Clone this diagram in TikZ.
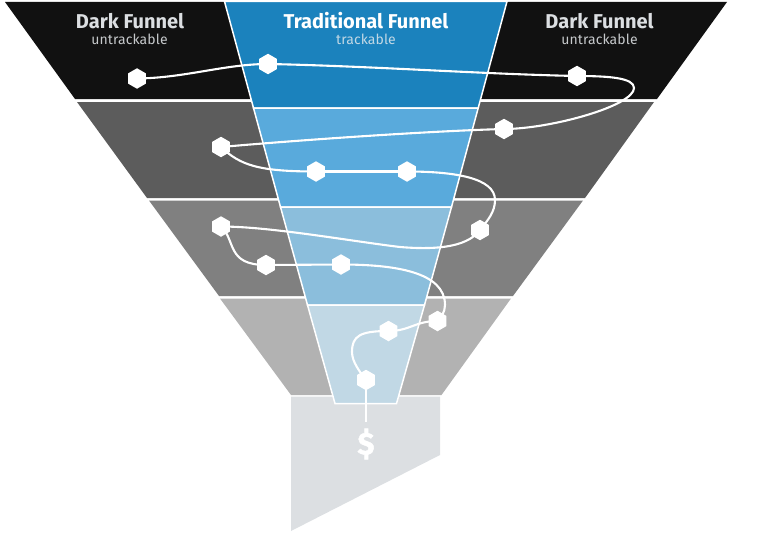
\documentclass[tikz,border=0pt]{standalone}
\usepackage{fontspec}
\setmainfont{Fira Sans}
\usetikzlibrary{shapes.geometric}
\definecolor{dkA}{HTML}{111111}
\definecolor{dkB}{HTML}{5C5C5C}
\definecolor{dkC}{HTML}{808080}
\definecolor{dkD}{HTML}{B2B2B2}
\definecolor{dkE}{HTML}{DCDFE2}
\definecolor{blA}{HTML}{1B82BD}
\definecolor{blB}{HTML}{59AADC}
\definecolor{blC}{HTML}{8BBEDC}
\definecolor{blD}{HTML}{C1D8E5}
\tikzset{
  hexnode/.style={regular polygon,regular polygon sides=6,shape border rotate=90,fill=white,inner sep=0pt,minimum size=20.5pt},
  route/.style={draw=white,line width=2.1pt},
  blueband/.style={draw=white,line width=1.5pt,line join=miter},
  titletext/.style={font=\fontsize{20}{22}\selectfont\bfseries,inner sep=0pt},
  subtext/.style={font=\fontsize{14}{16}\selectfont\addfontfeatures{LetterSpace=0.8},inner sep=0pt}
}
\begin{document}
\begin{tikzpicture}[x=1pt,y=-1pt]
\useasboundingbox (0,0) rectangle (768,535);
% dark bands
\fill[dkA] (5,2) -- (727,2) -- (657,99) -- (75,99) -- cycle;
\fill[dkB] (77,102) -- (654,102) -- (585,198) -- (147,198) -- cycle;
\fill[dkC] (149,200.5) -- (583,200.5) -- (513,296) -- (219,296) -- cycle;
\fill[dkD] (220,298.5) -- (511,298.5) -- (441.5,395) -- (291,395) -- cycle;
\fill[dkE] (291,396.5) -- (440,396.5) -- (440,455) -- (291,531) -- cycle;
% traditional funnel
\path[blueband,fill=blA] (224.5,1.5) -- (507,1.5) -- (478.2,108) -- (253.5,108) -- cycle;
\path[blueband,fill=blB] (253.5,108) -- (478.2,108) -- (451.5,207) -- (280.5,207) -- cycle;
\path[blueband,fill=blC] (280.5,207) -- (451.5,207) -- (424.5,305) -- (307.5,305) -- cycle;
\path[blueband,fill=blD] (307.5,305) -- (424.5,305) -- (396.5,403.5) -- (335,403.5) -- cycle;
% labels
\node[titletext,text=dkE] (t1) at (130,21) {Dark Funnel};
\node[subtext,text=dkE!90!black] (s1) at (129.5,39.5) {untrackable};
\node[titletext,text=white] (t2) at (366,21) {Traditional Funnel};
\node[subtext,text=blD] (s2) at (366,39.5) {trackable};
\node[titletext,text=dkE] (t3) at (599.5,21) {Dark Funnel};
\node[subtext,text=dkE!90!black] (s3) at (599.5,39.5) {untrackable};
\node[inner sep=0pt,text=white,font=\fontsize{31}{31}\selectfont\bfseries\addfontfeatures{FakeBold=1.5}] (dollar) at (366,444) {\$};
% hex stops
\node[hexnode] (h1) at (137,78.5) {};
\node[hexnode] (h2) at (268,64) {};
\node[hexnode] (h3) at (577,76) {};
\node[hexnode] (h4) at (504,129) {};
\node[hexnode] (h5) at (221,147) {};
\node[hexnode] (h6) at (316,171.5) {};
\node[hexnode] (h7) at (407,171.5) {};
\node[hexnode] (h8) at (480,230) {};
\node[hexnode] (h9) at (221,226.5) {};
\node[hexnode] (h10) at (266,265) {};
\node[hexnode] (h11) at (341,264.5) {};
\node[hexnode] (h12) at (437.5,321) {};
\node[hexnode] (h13) at (388.5,331) {};
\node[hexnode] (h14) at (366,380) {};
\coordinate (endstem) at (366,422);
% connectors
\draw[route] (h1.center) .. controls (185,78) and (225,64) .. (h2.center);
\draw[route] (h2.center) .. controls (370,66) and (480,74) .. (h3.center);
\draw[route] (h3.center) .. controls (610,76) and (634,78) .. (634,88) .. controls (634,106) and (550,129) .. (h4.center);
\draw[route] (h4.center) .. controls (430,131) and (300,140) .. (h5.center);
\draw[route] (h5.center) .. controls (240,165) and (258,171.5) .. (h6.center);
\draw[route] (h6.center) -- (h7.center);
\draw[route] (h7.center) .. controls (455,171.5) and (495,178) .. (495,200) .. controls (495,212) and (488,220) .. (h8.center);
\draw[route] (h8.center) .. controls (466,249) and (430,249.5) .. (400,247) .. controls (350,241) and (270,226.5) .. (h9.center);
\draw[route] (h9.center) .. controls (236,240) and (226,265) .. (h10.center);
\draw[route] (h10.center) -- (h11.center);
\draw[route] (h11.center) .. controls (395,264.5) and (445,272) .. (445,305) .. controls (445,312) and (441,318) .. (h12.center);
\draw[route] (h12.center) .. controls (415,321) and (410,331) .. (h13.center);
\draw[route] (h13.center) .. controls (360,331) and (352,336) .. (352,352) .. controls (352,362) and (360,372) .. (h14.center);
\draw[route] (h14.center) -- (endstem);
\end{tikzpicture}
\end{document}
